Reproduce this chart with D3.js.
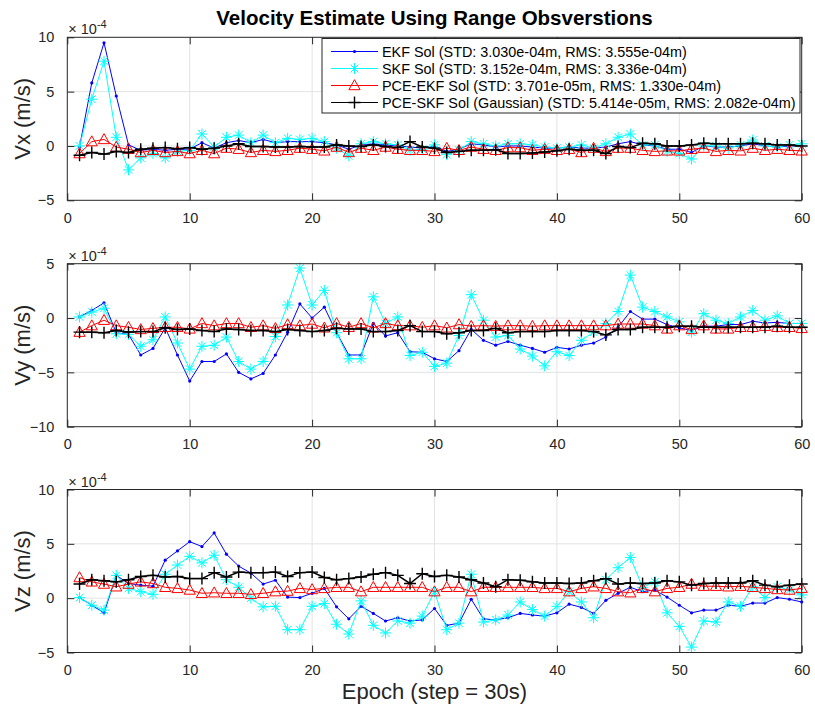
<!DOCTYPE html>
<html lang="en">
<head>
<meta charset="UTF-8">
<title>Velocity Estimate Using Range Obsverstions</title>
<script src="https://d3js.org/d3.v7.min.js"></script>
<style>
  body { margin: 0; background: #fff; }
  svg { font-family: "Liberation Sans", Arial, Helvetica, sans-serif; }
  .tick-label { font-size: 14.5px; fill: #262626; }
</style>
</head>
<body>
<svg id="chart"></svg>
<script>
// ---- data (values in units of 1e-4 m/s) ----
const epochs = d3.range(1, 61);
const xTicks = [0, 10, 20, 30, 40, 50, 60];

const vxEKF = [-0.1, 5.8, 9.5, 4.6, 0.1, -0.4, -0.3, -0.4, -0.3, -0.3, 0.3, -0.2, 0.3, 0.5, 0.3, 0.6, 0.3, 0.4, 0.4, 0.4,
  0.3, 0.1, -0.3, 0.1, 0.2, 0.1, 0.0, -0.1, -0.2, 0.0, -0.5, -0.3, 0.2, 0.1, -0.1, 0.0, 0.0, -0.1, -0.2, -0.2,
  -0.1, -0.2, -0.2, -0.1, 0.2, 0.4, 0.1, 0.0, -0.3, -0.3, -0.6, 0.0, -0.1, -0.1, 0.0, 0.2, 0.0, -0.1, 0.0, 0.0];
const vxSKF = [0.0, 4.3, 7.8, 0.8, -2.2, -1.1, -0.7, -1.1, -0.5, -0.4, 1.1, -0.1, 0.8, 1.0, 0.3, 1.0, 0.3, 0.7, 0.6, 0.7,
  0.4, -0.2, -0.9, 0.2, 0.4, 0.2, 0.1, -0.4, -0.3, 0.1, -0.8, -0.4, 0.4, 0.2, 0.0, 0.2, 0.2, 0.1, -0.1, -0.2,
  -0.1, 0.1, -0.2, 0.2, 0.8, 1.1, 0.1, 0.1, -0.5, -0.7, -1.2, 0.0, 0.0, -0.2, 0.1, 0.55, 0.0, -0.1, 0.1, 0.2];
const vxPceEKF = [-0.7, 0.4, 0.6, -0.1, -0.3, -0.6, -0.4, -0.6, -0.5, -0.7, -0.4, -0.7, -0.2, -0.3, -0.6, -0.4, -0.5, -0.4, -0.2, -0.3,
  -0.45, -0.1, -0.6, -0.2, -0.4, -0.1, -0.3, -0.4, -0.4, -0.5, -0.2, -0.4, -0.1, -0.3, -0.4, -0.15, -0.15, -0.4, -0.3, -0.4,
  -0.3, -0.6, -0.2, -0.5, -0.2, -0.2, -0.4, -0.5, -0.45, -0.45, -0.3, -0.2, -0.5, -0.4, -0.45, -0.2, -0.4, -0.3, -0.4, -0.45];
const vxPceSKF = [-0.85, -0.6, -0.75, -0.5, -0.6, -0.3, -0.2, -0.15, -0.25, -0.15, -0.3, -0.2, 0.0, 0.2, -0.05, -0.05, -0.1, -0.1, -0.05, -0.1,
  -0.1, 0.1, 0.0, -0.05, 0.1, -0.05, -0.15, 0.4, -0.1, -0.2, -0.6, -0.5, -0.4, -0.4, -0.35, -0.7, -0.7, -0.65, -0.55, -0.45,
  -0.3, -0.4, -0.4, -0.7, -0.05, -0.15, 0.25, 0.2, 0.0, 0.0, 0.1, 0.25, 0.2, 0.2, 0.2, 0.25, 0.2, 0.1, 0.1, 0.0];

const vyEKF = [0.1, 0.7, 1.4, -1.35, -1.5, -3.4, -2.8, -0.9, -3.4, -5.8, -4.0, -4.0, -3.3, -5.0, -5.6, -5.1, -3.4, -1.3, 1.3, 0.0,
  1.0, -1.35, -3.4, -3.4, -0.5, -1.65, -1.35, -3.1, -3.15, -3.75, -4.0, -3.0, -1.05, -2.05, -2.5, -2.15, -2.5, -2.8, -3.15, -2.7,
  -2.85, -2.5, -2.3, -1.75, -0.85, 0.6, -0.1, -0.1, -0.6, -0.9, -1.15, -0.75, -0.75, -0.6, -0.6, -0.3, -0.45, -0.4, -0.5, -0.5];
const vySKF = [0.1, 0.55, 0.9, -1.45, -1.5, -2.6, -2.0, 0.1, -2.3, -4.7, -2.6, -2.5, -1.75, -4.0, -4.7, -4.0, -1.7, 1.2, 4.6, 1.2,
  2.55, -1.35, -3.75, -3.75, 1.95, -0.5, 0.1, -3.45, -3.15, -4.45, -4.15, -1.6, 2.15, -0.2, -1.75, -1.6, -2.85, -3.5, -4.4, -3.1,
  -3.45, -2.05, -1.3, -0.5, 0.6, 3.95, 1.0, 0.6, 0.1, -0.35, -1.3, 0.4, -0.2, -0.5, 0.1, 0.7, -0.2, 0.2, -0.5, -0.5];
const vyPceEKF = [-1.3, -0.7, -0.2, -0.7, -0.85, -1.05, -0.95, -0.85, -0.85, -1.0, -0.5, -0.7, -0.5, -0.5, -0.85, -0.7, -0.95, -0.6, -0.7, -0.55,
  -0.9, -0.5, -0.85, -0.5, -0.9, -0.5, -0.7, -0.7, -0.85, -0.7, -0.9, -0.6, -0.75, -0.7, -0.75, -0.7, -0.7, -0.75, -0.7, -0.7,
  -0.7, -0.7, -0.7, -0.7, -0.55, -0.55, -0.55, -0.7, -1.0, -0.7, -1.05, -0.7, -1.0, -1.0, -0.85, -0.85, -0.75, -0.85, -0.85, -0.95];
const vyPceSKF = [-1.3, -1.3, -1.35, -1.15, -1.3, -1.25, -1.25, -0.9, -1.05, -1.0, -1.15, -1.25, -1.0, -1.05, -1.15, -1.15, -1.25, -1.05, -1.15, -1.25,
  -1.15, -0.95, -1.0, -1.0, -1.25, -1.25, -1.15, -0.7, -1.25, -1.25, -1.45, -1.35, -1.15, -1.15, -0.95, -1.35, -1.25, -1.25, -1.25, -1.15,
  -1.15, -1.15, -1.25, -1.55, -1.05, -1.05, -0.85, -0.85, -0.85, -0.75, -0.75, -0.85, -0.85, -0.85, -0.85, -0.85, -0.85, -0.75, -0.85, -0.85];

const vzEKF = [0.05, -0.65, -1.35, 2.1, 1.35, 1.2, 1.1, 3.5, 4.35, 5.2, 4.75, 6.0, 4.05, 2.95, 2.3, 1.3, 1.65, 0.1, 0.05, 0.45,
  0.9, -0.8, -1.9, -0.75, -1.4, -2.1, -1.8, -2.1, -2.0, -0.95, -2.5, -2.3, -0.1, -1.9, -2.0, -1.8, -1.4, -1.55, -1.65, -1.35,
  -0.55, -0.85, -1.4, -0.2, 0.45, 1.0, 0.6, 0.75, 0.1, -0.65, -1.35, -1.1, -1.1, -0.65, -0.75, -0.45, -0.45, 0.05, -0.1, -0.35];
const vzSKF = [0.05, -0.65, -1.1, 2.1, 0.9, 0.6, 0.35, 2.2, 3.05, 3.85, 3.25, 3.95, 1.7, 1.0, 0.0, -0.8, -0.75, -2.9, -2.9, -0.75,
  -0.5, -2.4, -3.3, -0.25, -2.5, -3.2, -2.1, -2.3, -1.65, 0.6, -2.9, -2.3, 2.2, -2.2, -2.0, -1.55, -0.35, -1.05, -1.65, -0.75,
  0.6, -0.35, -1.8, 1.7, 2.8, 3.75, 1.0, 1.5, -1.35, -2.6, -4.5, -2.1, -2.2, -0.35, -0.75, 1.05, 0.05, 1.05, 0.75, 0.3];
const vzPceEKF = [1.9, 1.5, 1.3, 1.05, 1.3, 1.5, 1.35, 1.0, 0.9, 0.75, 0.45, 0.5, 0.45, 0.45, 0.35, 0.45, 0.6, 0.65, 0.9, 0.8,
  0.9, 1.0, 1.0, 0.6, 1.0, 1.0, 1.0, 1.0, 1.0, 0.6, 1.0, 1.0, 0.6, 1.0, 1.0, 1.0, 1.0, 1.0, 0.9, 0.9,
  0.6, 0.9, 1.05, 0.9, 0.6, 0.5, 0.9, 0.6, 0.9, 1.0, 1.3, 1.1, 1.1, 1.05, 1.1, 1.0, 0.9, 0.8, 0.75, 0.9];
const vzPceSKF = [1.3, 1.7, 1.6, 1.5, 1.7, 2.0, 2.1, 1.95, 2.0, 1.8, 1.8, 2.35, 1.95, 2.4, 2.35, 2.35, 2.4, 2.0, 2.35, 2.4,
  1.9, 1.7, 1.8, 1.95, 2.2, 2.35, 2.1, 1.35, 2.25, 2.0, 2.1, 1.95, 1.7, 1.4, 1.05, 1.7, 1.65, 1.5, 1.4, 1.4,
  1.35, 1.4, 1.6, 1.8, 1.3, 1.4, 1.35, 1.4, 1.6, 1.5, 1.2, 1.35, 1.4, 1.4, 1.4, 1.6, 1.2, 1.05, 1.2, 1.3];

const seriesNames = [
  "EKF Sol (STD: 3.030e-04m, RMS: 3.555e-04m)",
  "SKF Sol (STD: 3.152e-04m, RMS: 3.336e-04m)",
  "PCE-EKF Sol (STD: 3.701e-05m, RMS: 1.330e-04m)",
  "PCE-SKF Sol (Gaussian) (STD: 5.414e-05m, RMS: 2.082e-04m)"
];
const panelLabels = ["Vx (m/s)", "Vy (m/s)", "Vz (m/s)"];
const panelTicks = [[-5, 0, 5, 10], [-10, -5, 0, 5], [-5, 0, 5, 10]];
const panelData = [
  [vxEKF, vxSKF, vxPceEKF, vxPceSKF],
  [vyEKF, vySKF, vyPceEKF, vyPceSKF],
  [vzEKF, vzSKF, vzPceEKF, vzPceSKF]
];

// ---- styles ----
const styles = [
  { color: "#0000ff", width: 1, marker: "dot" },
  { color: "#00ffff", width: 1, marker: "star" },
  { color: "#ff0000", width: 1, marker: "tri" },
  { color: "#000000", width: 1.5, marker: "plus" }
];
const axisColor = "#262626";

const W = 815, H = 708;
const left = 67.3, right = 801.7;
const tops = [37.3, 263.7, 489.5];
const ph = 163;

const svg = d3.select("#chart").attr("width", W).attr("height", H);

const x = d3.scaleLinear().domain([0, 60]).range([left, right]);

function markerPath(type) {
  if (type === "star") {
    const s = 5.5, d = s * Math.SQRT1_2;
    return `M${-s},0H${s}M0,${-s}V${s}M${-d},${-d}L${d},${d}M${-d},${d}L${d},${-d}`;
  }
  if (type === "plus") {
    const s = 6;
    return `M${-s},0H${s}M0,${-s}V${s}`;
  }
  if (type === "tri") {
    return "M0,-5.8L5.6,4.2L-5.6,4.2Z";
  }
  return null;
}

function drawMarkers(g, pts, st) {
  if (st.marker === "dot") {
    g.selectAll(null).data(pts).enter().append("circle")
      .attr("cx", d => d[0]).attr("cy", d => d[1]).attr("r", 1.6)
      .attr("fill", st.color);
  } else {
    g.selectAll(null).data(pts).enter().append("path")
      .attr("transform", d => `translate(${d[0]},${d[1]})`)
      .attr("d", markerPath(st.marker))
      .attr("fill", "none").attr("stroke", st.color)
      .attr("stroke-width", st.marker === "plus" ? 1.4 : 1);
  }
}

panelData.forEach((series, p) => {
  const top = tops[p], bottom = top + ph;
  const yt = panelTicks[p];
  const y = d3.scaleLinear().domain([yt[0], yt[yt.length - 1]]).range([bottom, top]);
  const g = svg.append("g");

  // grid
  g.selectAll(null).data(xTicks.slice(1, -1)).enter().append("line")
    .attr("x1", d => x(d)).attr("x2", d => x(d)).attr("y1", top).attr("y2", bottom)
    .attr("stroke", "#e3e3e3").attr("stroke-width", 1);
  g.selectAll(null).data(yt.slice(1, -1)).enter().append("line")
    .attr("y1", d => y(d)).attr("y2", d => y(d)).attr("x1", left).attr("x2", right)
    .attr("stroke", "#e3e3e3").attr("stroke-width", 1);

  // series
  const clipId = "clip" + p;
  svg.append("clipPath").attr("id", clipId).append("rect")
    .attr("x", left - 8).attr("y", top - 8).attr("width", right - left + 16).attr("height", ph + 16);
  const plot = g.append("g").attr("clip-path", `url(#${clipId})`);
  series.forEach((vals, s) => {
    const st = styles[s];
    const pts = vals.map((v, i) => [x(epochs[i]), y(v)]);
    plot.append("path").datum(pts)
      .attr("d", d3.line())
      .attr("fill", "none").attr("stroke", st.color).attr("stroke-width", st.width);
    drawMarkers(plot.append("g"), pts, st);
  });

  // box
  g.append("rect").attr("x", left).attr("y", top).attr("width", right - left).attr("height", ph)
    .attr("fill", "none").attr("stroke", axisColor).attr("stroke-width", 1);

  // ticks (inward, all four sides)
  const tl = 7;
  const axB = g.append("g").attr("transform", `translate(0,${bottom})`)
    .call(d3.axisBottom(x).tickValues(xTicks).tickSizeInner(-tl).tickSizeOuter(0).tickPadding(tl + 5));
  const axT = g.append("g").attr("transform", `translate(0,${top})`)
    .call(d3.axisTop(x).tickValues(xTicks).tickSizeInner(-tl).tickSizeOuter(0).tickFormat(""));
  const axL = g.append("g").attr("transform", `translate(${left},0)`)
    .call(d3.axisLeft(y).tickValues(yt).tickSizeInner(-tl).tickSizeOuter(0).tickPadding(tl + 6));
  const axR = g.append("g").attr("transform", `translate(${right},0)`)
    .call(d3.axisRight(y).tickValues(yt).tickSizeInner(-tl).tickSizeOuter(0).tickFormat(""));
  [axB, axT, axL, axR].forEach(a => {
    a.select(".domain").remove();
    a.selectAll("line").attr("stroke", axisColor);
    a.selectAll("text").attr("class", "tick-label").attr("font-size", null).attr("font-family", null);
  });

  // exponent label
  const ex = g.append("text").attr("x", left + 1).attr("y", top - 3)
    .attr("fill", axisColor).attr("font-size", 14.5);
  ex.append("tspan").text("\u00d7 10");
  ex.append("tspan").attr("font-size", 11).attr("dy", -6).text("-4");

  // y label
  svg.append("text")
    .attr("transform", `translate(30,${top + ph / 2}) rotate(-90)`)
    .attr("text-anchor", "middle").attr("font-size", 22).attr("fill", axisColor)
    .text(panelLabels[p]);
});

// title
svg.append("text").attr("x", (left + right) / 2).attr("y", 25)
  .attr("text-anchor", "middle").attr("font-size", 20.5).attr("font-weight", "bold")
  .attr("fill", "#000").text("Velocity Estimate Using Range Obsverstions");

// x label
svg.append("text").attr("x", (left + right) / 2).attr("y", 699)
  .attr("text-anchor", "middle").attr("font-size", 22).attr("fill", axisColor)
  .text("Epoch (step = 30s)");

// legend
const lg = svg.append("g");
lg.append("rect").attr("x", 322).attr("y", 38.5).attr("width", 478).attr("height", 74.5)
  .attr("fill", "#fff").attr("stroke", axisColor).attr("stroke-width", 1);
seriesNames.forEach((name, i) => {
  const cy = 51.5 + i * 17;
  const st = styles[i];
  lg.append("line").attr("x1", 331).attr("x2", 378).attr("y1", cy).attr("y2", cy)
    .attr("stroke", st.color).attr("stroke-width", i === 3 ? 1 : st.width);
  drawMarkers(lg.append("g"), [[354.5, cy]], st);
  lg.append("text").attr("x", 382).attr("y", cy + 5).attr("font-size", 14.4).attr("fill", "#000").text(name);
});
</script>
</body>
</html>
